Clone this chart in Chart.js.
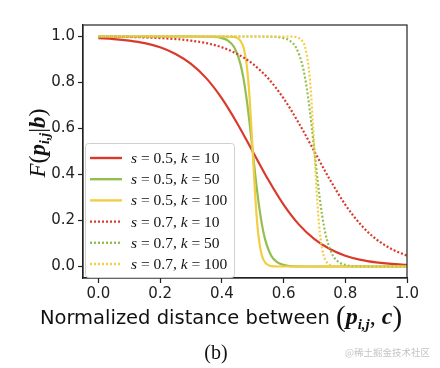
<!DOCTYPE html>
<html>
<head>
<meta charset="utf-8">
<script src="https://cdn.jsdelivr.net/npm/chart.js@4/dist/chart.umd.min.js"></script>
<style>
  html, body { margin: 0; padding: 0; background: #fff; }
  #wrap { width: 440px; height: 368px; }
</style>
</head>
<body>
<div id="wrap"><canvas id="c" width="440" height="368"></canvas></div>
<script>
// values
const xTicks = [0.0, 0.2, 0.4, 0.6, 0.8, 1.0];
const yTicks = [0.0, 0.2, 0.4, 0.6, 0.8, 1.0];

const seriesNames = [
    ['0.5', '10'], ['0.5', '50'], ['0.5', '100'],
    ['0.7', '10'], ['0.7', '50'], ['0.7', '100']
];

// k = 10 curves, sampled every 0.05
const xK10 = [0.0, 0.05, 0.1, 0.15, 0.2, 0.25, 0.3, 0.35, 0.4, 0.45, 0.5,
              0.55, 0.6, 0.65, 0.7, 0.75, 0.8, 0.85, 0.9, 0.95, 1.0];
const yS05K10 = [0.993, 0.989, 0.982, 0.971, 0.953, 0.924, 0.881, 0.818, 0.731, 0.622, 0.5,
                 0.378, 0.269, 0.182, 0.119, 0.076, 0.047, 0.029, 0.018, 0.011, 0.007];
const yS07K10 = [0.999, 0.999, 0.998, 0.996, 0.993, 0.989, 0.982, 0.971, 0.953, 0.924, 0.881,
                 0.818, 0.731, 0.622, 0.5, 0.378, 0.269, 0.182, 0.119, 0.076, 0.047];

// k = 50
const xS05K50 = [0.0, 0.3, 0.38, 0.4, 0.42, 0.44, 0.46, 0.47, 0.48, 0.49, 0.5,
                 0.51, 0.52, 0.53, 0.54, 0.56, 0.58, 0.6, 0.62, 0.7, 1.0];
const xS07K50 = [0.0, 0.5, 0.58, 0.6, 0.62, 0.64, 0.66, 0.67, 0.68, 0.69, 0.7,
                 0.71, 0.72, 0.73, 0.74, 0.76, 0.78, 0.8, 0.82, 0.9, 1.0];
const yK50 = [1.0, 1.0, 0.998, 0.993, 0.982, 0.953, 0.881, 0.818, 0.731, 0.622, 0.5,
              0.378, 0.269, 0.182, 0.119, 0.047, 0.018, 0.007, 0.002, 0.0, 0.0];

// k = 100
const xS05K100 = [0.0, 0.4, 0.44, 0.45, 0.46, 0.47, 0.48, 0.485, 0.49, 0.495, 0.5,
                  0.505, 0.51, 0.515, 0.52, 0.53, 0.54, 0.55, 0.56, 0.6, 1.0];
const xS07K100 = [0.0, 0.6, 0.64, 0.65, 0.66, 0.67, 0.68, 0.685, 0.69, 0.695, 0.7,
                  0.705, 0.71, 0.715, 0.72, 0.73, 0.74, 0.75, 0.76, 0.8, 1.0];
const yK100 = [1.0, 1.0, 0.998, 0.993, 0.982, 0.953, 0.881, 0.818, 0.731, 0.622, 0.5,
               0.378, 0.269, 0.182, 0.119, 0.047, 0.018, 0.007, 0.002, 0.0, 0.0];

const red = '#d93a2c', green = '#93bf50', yellow = '#f4cd44';

function pts(xs, ys) {
    return xs.map((x, i) => ({x: x, y: ys[i]}));
}

const sets = [
    {data: pts(xK10, yS05K10), color: red, dash: []},
    {data: pts(xS05K50, yK50), color: green, dash: []},
    {data: pts(xS05K100, yK100), color: yellow, dash: []},
    {data: pts(xK10, yS07K10), color: red, dash: [2, 2]},
    {data: pts(xS07K50, yK50), color: green, dash: [2, 2]},
    {data: pts(xS07K100, yK100), color: yellow, dash: [2, 2]}
];

// draw a row of text pieces with different fonts
function rich(ctx, parts, x, y, align) {
    let w = 0;
    parts.forEach(p => { ctx.font = p.f; p.w = ctx.measureText(p.t).width; w += p.w; });
    let cx = align === 'center' ? x - w / 2 : x;
    ctx.textAlign = 'left';
    ctx.textBaseline = 'alphabetic';
    parts.forEach(p => {
        ctx.font = p.f;
        ctx.fillText(p.t, cx, y + (p.dy || 0));
        cx += p.w;
    });
}

const serif = '"Liberation Serif", "DejaVu Serif", serif';

const decor = {
    id: 'decor',
    afterDatasetsDraw(chart) {
        const ctx = chart.ctx, a = chart.chartArea;
        ctx.save();
        ctx.strokeStyle = '#222';
        ctx.lineWidth = 1.2;
        ctx.strokeRect(a.left, a.top, a.right - a.left, a.bottom - a.top);

        // legend
        const lx = 85, ly = 143, lw = 149, lh = 134;
        ctx.fillStyle = 'rgba(255,255,255,0.85)';
        ctx.strokeStyle = '#d0d0d0';
        ctx.lineWidth = 1;
        ctx.beginPath();
        ctx.roundRect(lx + 0.5, ly + 0.5, lw, lh, 3);
        ctx.fill();
        ctx.stroke();
        seriesNames.forEach((n, i) => {
            const y = 158 + i * 21.2;
            ctx.strokeStyle = sets[i].color;
            ctx.lineWidth = 2.4;
            ctx.setLineDash(sets[i].dash);
            ctx.beginPath();
            ctx.moveTo(90, y);
            ctx.lineTo(122, y);
            ctx.stroke();
            ctx.setLineDash([]);
            ctx.fillStyle = '#111';
            rich(ctx, [
                {t: 's', f: 'italic 15.5px ' + serif},
                {t: ' = ' + n[0] + ', ', f: '15.5px ' + serif},
                {t: 'k', f: 'italic 15.5px ' + serif},
                {t: ' = ' + n[1], f: '15.5px ' + serif}
            ], 131, y + 5, 'left');
        });

        ctx.fillStyle = '#111';
        // x title
        rich(ctx, [
            {t: 'Normalized distance between ', f: '19.5px "DejaVu Sans"'},
            {t: '(', f: '29px ' + serif, dy: 2},
            {t: 'p', f: 'bold italic 24px ' + serif},
            {t: 'i,j', f: 'bold italic 15px ' + serif, dy: 5},
            {t: ', ', f: '24px ' + serif},
            {t: 'c', f: 'bold italic 24px ' + serif},
            {t: ')', f: '29px ' + serif, dy: 2}
        ], 221, 324, 'center');

        // y title
        ctx.save();
        ctx.translate(45, 143);
        ctx.rotate(-Math.PI / 2);
        rich(ctx, [
            {t: 'F', f: 'italic 23px ' + serif},
            {t: '(', f: '24px ' + serif},
            {t: 'p', f: 'bold italic 23px ' + serif},
            {t: 'i,j', f: 'bold italic 14px ' + serif, dy: 4},
            {t: '|', f: '24px ' + serif},
            {t: 'b', f: 'bold italic 23px ' + serif},
            {t: ')', f: '24px ' + serif}
        ], 0, 0, 'center');
        ctx.restore();

        // caption
        ctx.font = '20px ' + serif;
        ctx.textAlign = 'center';
        ctx.fillText('(b)', 216, 359);

        ctx.fillStyle = '#c4c4c4';
        ctx.font = '9.5px "Noto Sans CJK SC"';
        ctx.textAlign = 'left';
        ctx.fillText('@稀土掘金技术社区', 345, 356);
        ctx.restore();
    }
};

new Chart(document.getElementById('c'), {
    type: 'line',
    data: {
        datasets: sets.map((s, i) => ({
            data: s.data,
            borderColor: s.color,
            borderWidth: 2.2,
            borderDash: s.dash,
            borderCapStyle: 'butt',
            pointRadius: 0,
            fill: false,
            cubicInterpolationMode: 'monotone',
            order: 5 - i
        }))
    },
    options: {
        responsive: false,
        animation: false,
        layout: {padding: {left: 0, top: 25, right: 33, bottom: 0}},
        plugins: {legend: {display: false}, tooltip: {enabled: false}},
        scales: {
            x: {
                type: 'linear',
                min: -0.05, max: 1.0,
                afterBuildTicks: s => { s.ticks = xTicks.map(v => ({value: v})); },
                afterFit: s => { s.height = 90; },
                grid: {drawOnChartArea: false, tickLength: 5, tickColor: '#222', tickWidth: 1.2},
                border: {color: '#222', width: 1.2},
                ticks: {
                    color: '#222', padding: 2, maxRotation: 0, autoSkip: false,
                    font: {family: 'DejaVu Sans', size: 15},
                    callback: v => v.toFixed(1)
                }
            },
            y: {
                type: 'linear',
                min: -0.05, max: 1.05,
                afterBuildTicks: s => { s.ticks = yTicks.map(v => ({value: v})); },
                afterFit: s => { s.width = 83; },
                grid: {drawOnChartArea: false, tickLength: 5, tickColor: '#222', tickWidth: 1.2},
                border: {color: '#222', width: 1.2},
                ticks: {
                    color: '#222', padding: 3, autoSkip: false,
                    font: {family: 'DejaVu Sans', size: 15},
                    callback: v => v.toFixed(1)
                }
            }
        }
    },
    plugins: [decor]
});
</script>
</body>
</html>
